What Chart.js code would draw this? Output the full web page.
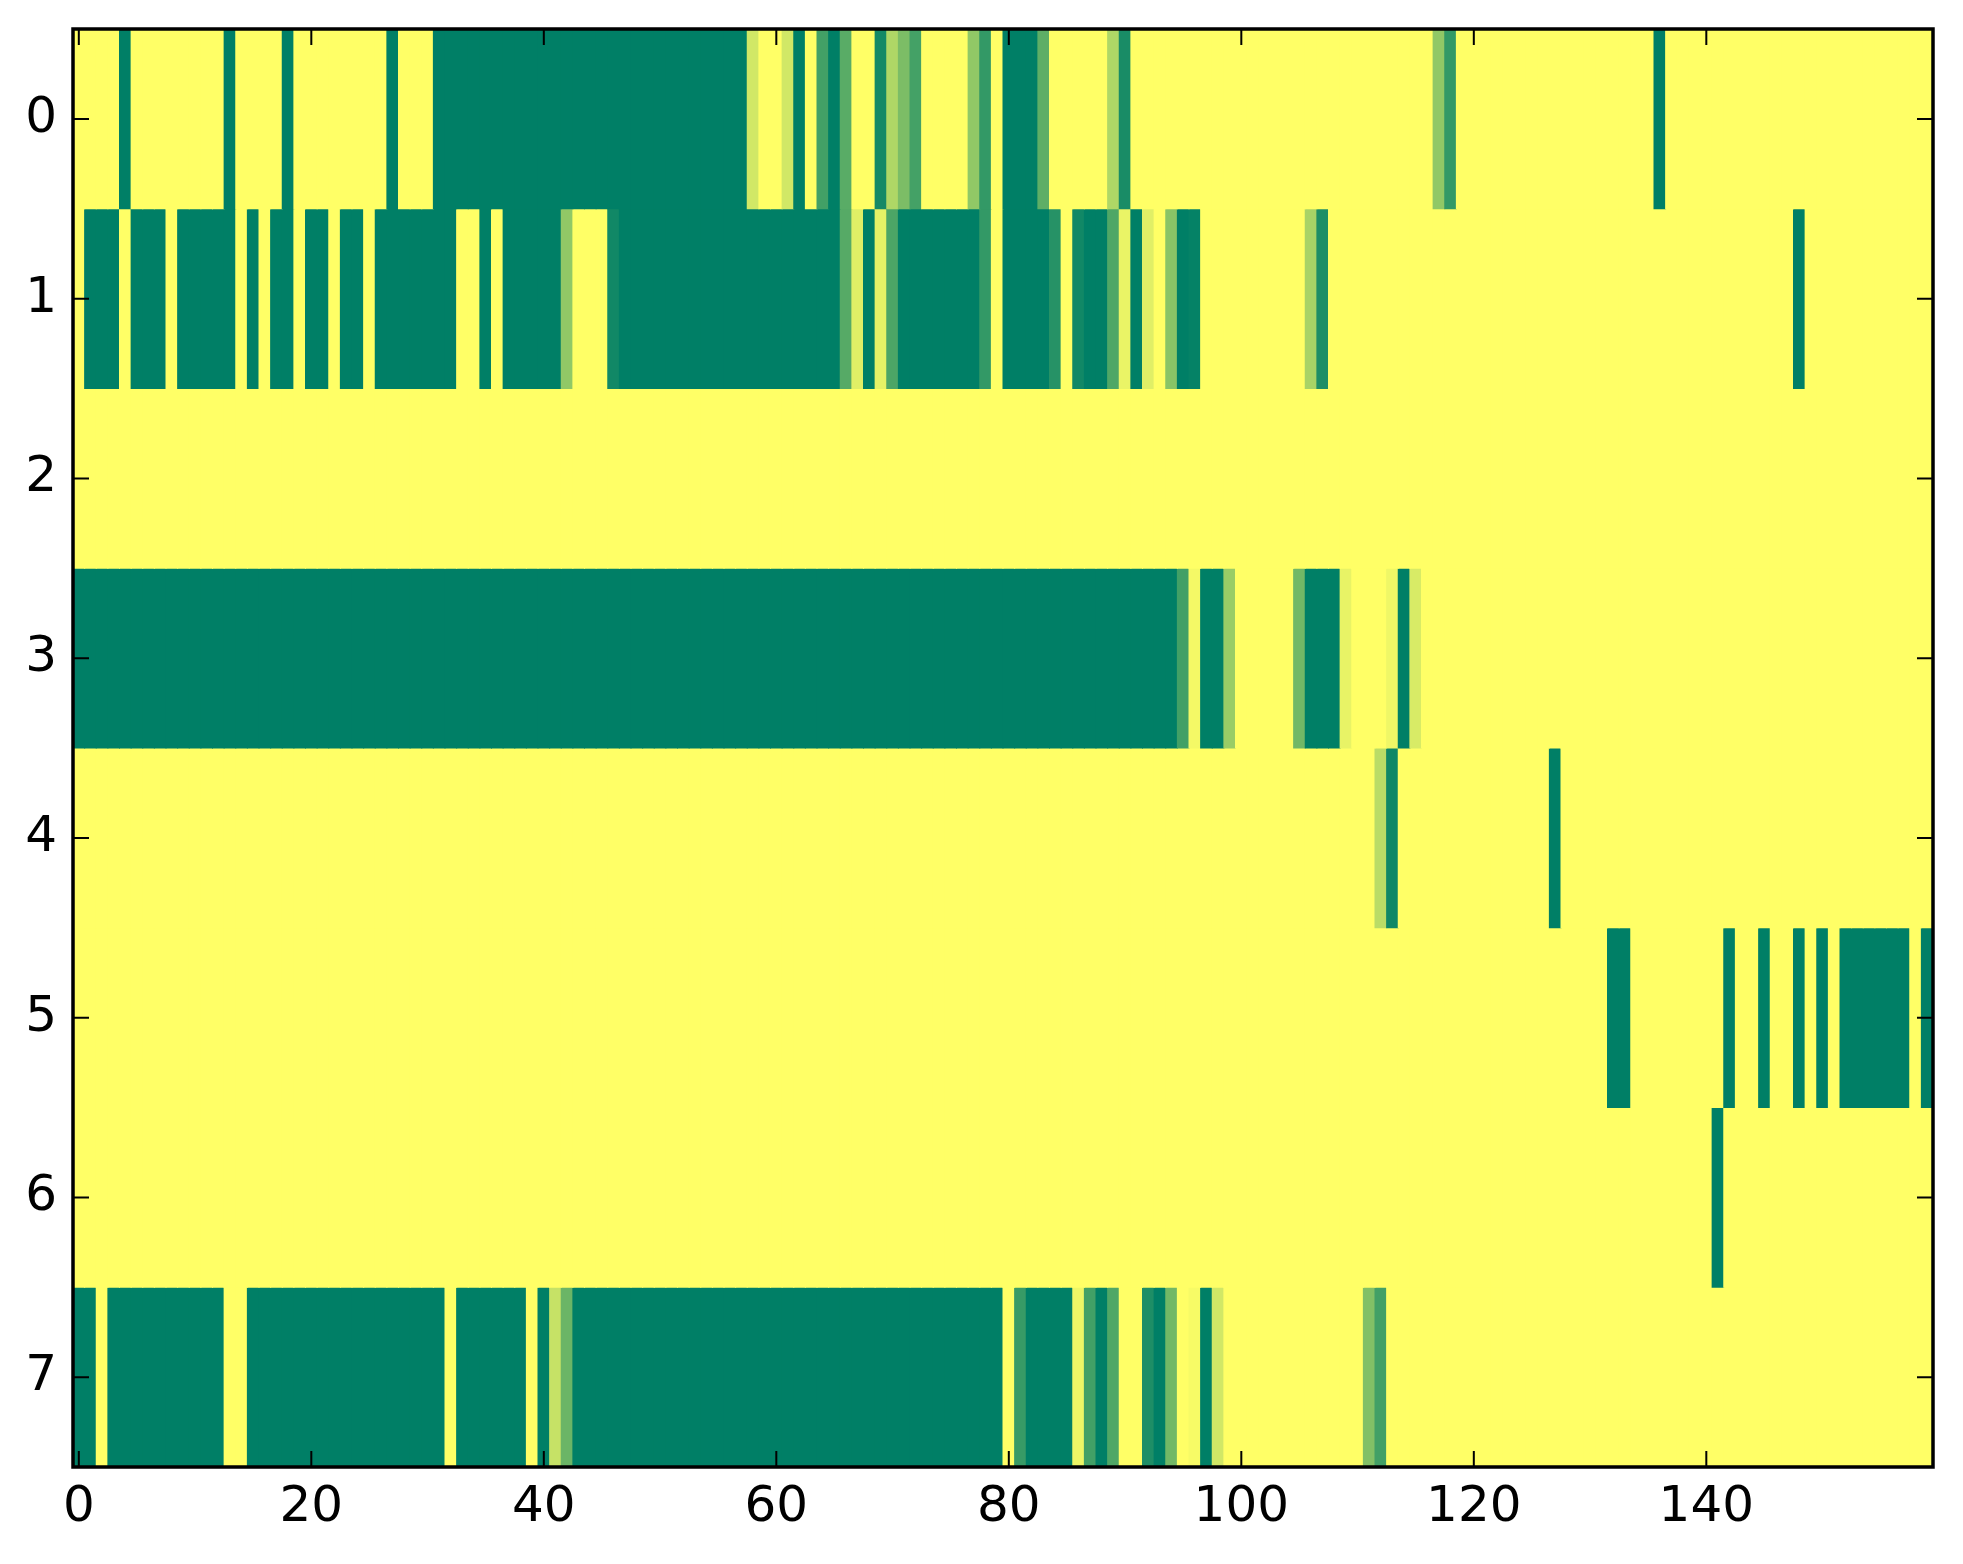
<!DOCTYPE html>
<html>
<head>
<meta charset="utf-8">
<script src="https://cdn.jsdelivr.net/npm/chart.js@4/dist/chart.umd.min.js"></script>
<style>
html,body{margin:0;padding:0;background:#fff;}
canvas{display:block;}
</style>
</head>
<body>
<canvas id="c" width="1963" height="1564"></canvas>
<script>
// Heatmap values (0 = dark green, 1 = yellow), one array per row, 160 columns each
const row0 = [
1,1,1,1,0,1,1,1,1,1, 1,1,1,0,1,1,1,1,0,1,
1,1,1,1,1,1,1,0,1,1, 1,0,0,0,0,0,0,0,0,0,
0,0,0,0,0,0,0,0,0,0, 0,0,0,0,0,0,0,0,0.82,1,
1,0.82,0,1,0.26,0,0.35,1,1,0.08, 0.69,0.49,0.27,1,1,1,1,0.57,0.2,1,
0,0,0,0.37,1,1,1,1,1,0.69, 0.1,1,1,1,1,1,1,1,1,1,
1,1,1,1,1,1,1,1,1,1, 1,1,1,1,1,1,1,0.57,0.2,1,
1,1,1,1,1,1,1,1,1,1, 1,1,1,1,1,1,0,1,1,1,
1,1,1,1,1,1,1,1,1,1, 1,1,1,1,1,1,1,1,1,1
];
const row1 = [
1,0,0,0,1,0,0,0,1,0, 0,0,0,0,1,0,1,0,0,1,
0,0,1,0,0,1,0,0,0,0, 0,0,0,1,1,0,1,0,0,0,
0,0,0.57,1,1,1,0.07,0,0,0, 0,0,0,0,0,0,0,0,0,0,
0,0,0,0,0,0,0.34,0.88,0,0.9, 0.3,0,0,0,0,0,0,0,0.2,1,
0,0,0,0,0.15,1,0.07,0,0,0.31, 0.92,0,0.88,1,0.54,0,0.02,1,1,1,
1,1,1,1,1,1,0.66,0.12,1,1, 1,1,1,1,1,1,1,1,1,1,
1,1,1,1,1,1,1,1,1,1, 1,1,1,1,1,1,1,1,1,1,
1,1,1,1,1,1,1,1,0,1, 1,1,1,1,1,1,1,1,1,1
];
const row2 = [
1,1,1,1,1,1,1,1,1,1, 1,1,1,1,1,1,1,1,1,1,
1,1,1,1,1,1,1,1,1,1, 1,1,1,1,1,1,1,1,1,1,
1,1,1,1,1,1,1,1,1,1, 1,1,1,1,1,1,1,1,1,1,
1,1,1,1,1,1,1,1,1,1, 1,1,1,1,1,1,1,1,1,1,
1,1,1,1,1,1,1,1,1,1, 1,1,1,1,1,1,1,1,1,1,
1,1,1,1,1,1,1,1,1,1, 1,1,1,1,1,1,1,1,1,1,
1,1,1,1,1,1,1,1,1,1, 1,1,1,1,1,1,1,1,1,1,
1,1,1,1,1,1,1,1,1,1, 1,1,1,1,1,1,1,1,1,1
];
const row3 = [
0,0,0,0,0,0,0,0,0,0, 0,0,0,0,0,0,0,0,0,0,
0,0,0,0,0,0,0,0,0,0, 0,0,0,0,0,0,0,0,0,0,
0,0,0,0,0,0,0,0,0,0, 0,0,0,0,0,0,0,0,0,0,
0,0,0,0,0,0,0,0,0,0, 0,0,0,0,0,0,0,0,0,0,
0,0,0,0,0,0,0,0,0,0, 0,0,0,0,0,0.26,0.96,0,0,0.6,
1,1,1,1,1,0.45,0,0,0,0.91, 1,1,1,0.94,0,0.85,1,1,1,1,
1,1,1,1,1,1,1,1,1,1, 1,1,1,1,1,1,1,1,1,1,
1,1,1,1,1,1,1,1,1,1, 1,1,1,1,1,1,1,1,1,1
];
const row4 = [
1,1,1,1,1,1,1,1,1,1, 1,1,1,1,1,1,1,1,1,1,
1,1,1,1,1,1,1,1,1,1, 1,1,1,1,1,1,1,1,1,1,
1,1,1,1,1,1,1,1,1,1, 1,1,1,1,1,1,1,1,1,1,
1,1,1,1,1,1,1,1,1,1, 1,1,1,1,1,1,1,1,1,1,
1,1,1,1,1,1,1,1,1,1, 1,1,1,1,1,1,1,1,1,1,
1,1,1,1,1,1,1,1,1,1, 1,1,0.73,0.06,1,1,1,1,1,1,
1,1,1,1,1,1,1,0,1,1, 1,1,1,1,1,1,1,1,1,1,
1,1,1,1,1,1,1,1,1,1, 1,1,1,1,1,1,1,1,1,1
];
const row5 = [
1,1,1,1,1,1,1,1,1,1, 1,1,1,1,1,1,1,1,1,1,
1,1,1,1,1,1,1,1,1,1, 1,1,1,1,1,1,1,1,1,1,
1,1,1,1,1,1,1,1,1,1, 1,1,1,1,1,1,1,1,1,1,
1,1,1,1,1,1,1,1,1,1, 1,1,1,1,1,1,1,1,1,1,
1,1,1,1,1,1,1,1,1,1, 1,1,1,1,1,1,1,1,1,1,
1,1,1,1,1,1,1,1,1,1, 1,1,1,1,1,1,1,1,1,1,
1,1,1,1,1,1,1,1,1,1, 1,1,0,0,1,1,1,1,1,1,
1,1,0,1,1,0,1,1,0,1, 0,1,0,0,0,0,0,0,1,0
];
const row6 = [
1,1,1,1,1,1,1,1,1,1, 1,1,1,1,1,1,1,1,1,1,
1,1,1,1,1,1,1,1,1,1, 1,1,1,1,1,1,1,1,1,1,
1,1,1,1,1,1,1,1,1,1, 1,1,1,1,1,1,1,1,1,1,
1,1,1,1,1,1,1,1,1,1, 1,1,1,1,1,1,1,1,1,1,
1,1,1,1,1,1,1,1,1,1, 1,1,1,1,1,1,1,1,1,1,
1,1,1,1,1,1,1,1,1,1, 1,1,1,1,1,1,1,1,1,1,
1,1,1,1,1,1,1,1,1,1, 1,1,1,1,1,1,1,1,1,1,
1,0,1,1,1,1,1,1,1,1, 1,1,1,1,1,1,1,1,1,1
];
const row7 = [
0,0,1,0,0,0,0,0,0,0, 0,0,0,1,1,0,0,0,0,0,
0,0,0,0,0,0,0,0,0,0, 0,0,1,0,0,0,0,0,0,1,
0,0.78,0.42,0,0,0,0,0,0,0, 0,0,0,0,0,0,0,0,0,0,
0,0,0,0,0,0,0,0,0,0, 0,0,0,0,0,0,0,0,0,0,
1,0.22,0,0,0,0,0.93,0.26,0,0.31, 1,1,0.12,0,0.45,1,0.97,0,0.82,1,
1,1,1,1,1,1,1,1,1,1, 1,0.51,0.26,1,1,1,1,1,1,1,
1,1,1,1,1,1,1,1,1,1, 1,1,1,1,1,1,1,1,1,1,
1,1,1,1,1,1,1,1,1,1, 1,1,1,1,1,1,1,1,1,1
];
const rows = [row0, row1, row2, row3, row4, row5, row6, row7];
const xTickValues = [0, 20, 40, 60, 80, 100, 120, 140];
const yTickValues = [0, 1, 2, 3, 4, 5, 6, 7];

// matplotlib "summer" colormap
function summer(v) {
  const r = Math.floor(255 * v);
  const g = Math.floor(255 * (0.5 + 0.5 * v));
  return `rgb(${r},${g},102)`;
}

const datasets = rows.map((vals, r) => ({
  label: 'row ' + r,
  data: vals.map((v, c) => ({ x: c, y: [r - 0.5, r + 0.5], v: v })),
  backgroundColor: vals.map(v => summer(v)),
  borderWidth: 0,
  inflateAmount: 0.5,
  grouped: false,
  barPercentage: 1.0,
  categoryPercentage: 1.0
}));

const frameTicks = {
  id: 'frameTicks',
  afterDraw(chart) {
    const { ctx, chartArea: a, scales } = chart;
    const xs = scales.x, ys = scales.y;
    ctx.save();
    ctx.strokeStyle = '#000';
    ctx.lineWidth = 2;
    const L = 16;
    ctx.beginPath();
    xs.ticks.forEach(t => {
      const px = xs.getPixelForValue(t.value);
      ctx.moveTo(px, a.bottom); ctx.lineTo(px, a.bottom - L);
      ctx.moveTo(px, a.top); ctx.lineTo(px, a.top + L);
    });
    ys.ticks.forEach(t => {
      const py = ys.getPixelForValue(t.value);
      ctx.moveTo(a.left, py); ctx.lineTo(a.left + L, py);
      ctx.moveTo(a.right, py); ctx.lineTo(a.right - L, py);
    });
    ctx.stroke();
    ctx.lineWidth = 3.5;
    ctx.strokeRect(a.left, a.top, a.right - a.left, a.bottom - a.top);
    ctx.restore();
  }
};

Chart.defaults.font.family = "'DejaVu Sans', sans-serif";

new Chart(document.getElementById('c'), {
  type: 'bar',
  data: { datasets: datasets },
  options: {
    responsive: false,
    devicePixelRatio: 1,
    animation: false,
    events: [],
    layout: { padding: { top: 29, right: 30, left: 0, bottom: 0 } },
    plugins: { legend: { display: false }, tooltip: { enabled: false } },
    scales: {
      x: {
        type: 'linear',
        min: -0.5,
        max: 159.5,
        offset: false,
        grid: { display: false, drawTicks: false },
        border: { display: false },
        afterBuildTicks: s => { s.ticks = xTickValues.map(v => ({ value: v })); },
        afterFit: s => { s.height = 97; s.paddingLeft = 0; s.paddingRight = 0; },
        ticks: {
          color: '#000',
          font: { size: 50 },
          padding: 11,
          maxRotation: 0,
          autoSkip: false,
          callback: v => String(v)
        }
      },
      y: {
        type: 'linear',
        reverse: true,
        min: -0.5,
        max: 7.5,
        grid: { display: false, drawTicks: false },
        border: { display: false },
        afterBuildTicks: s => { s.ticks = yTickValues.map(v => ({ value: v })); },
        afterFit: s => { s.width = 73; s.paddingTop = 0; s.paddingBottom = 0; },
        ticks: {
          color: '#000',
          font: { size: 50 },
          padding: 16,
          autoSkip: false,
          callback: v => String(v)
        }
      }
    }
  },
  plugins: [frameTicks]
});
</script>
</body>
</html>
